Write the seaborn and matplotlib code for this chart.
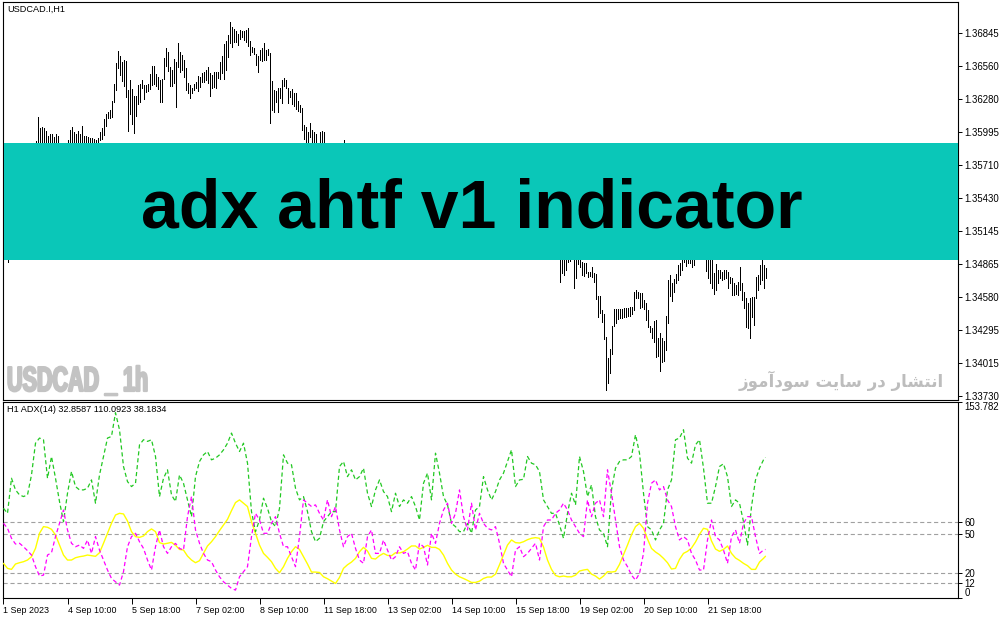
import matplotlib
matplotlib.use("Agg")
import matplotlib.pyplot as plt
import seaborn as sns
import pandas as pd
from matplotlib.patches import Rectangle
from matplotlib import patheffects
from matplotlib.transforms import Affine2D

# ---------------- texts ----------------
symbol_title = "USDCAD.I,H1"
indicator_title = "H1 ADX(14) 32.8587 110.0923 38.1834"
banner_title = "adx ahtf v1 indicator"
watermark_left = "USDCAD _ 1h"
# "انتشار در سایت سودآموز" written with Arabic presentation forms in visual order
watermark_right = ("\uFEAF\uFEEE\uFEE3\uFE81\uFEA9\uFEEE\uFEB3 "
                   "\uFE96\uFBFE\uFE8E\uFEB3 "
                   "\uFEAD\uFEA9 "
                   "\uFEAD\uFE8E\uFEB8\uFE98\uFEE7\uFE8D")

# ---------------- price data (H1 bars, high / low) ----------------
bar_high = [
    1.3515, 1.3512, 1.3500, 1.3506, 1.3514, 1.3522, 1.3520, 1.3533, 1.3546, 1.3553,
    1.3561, 1.3571, 1.3569, 1.3576, 1.3583, 1.3587, 1.35918, 1.36124, 1.36030, 1.36038,
    1.36030, 1.36004, 1.35961, 1.35978, 1.35978, 1.35953, 1.35978, 1.35961, 1.3588, 1.3586,
    1.3584, 1.3587, 1.35927, 1.36013, 1.36038, 1.35995, 1.35978, 1.36004, 1.35978, 1.36047,
    1.35961, 1.35961, 1.35953, 1.35944, 1.35944, 1.35935, 1.35927, 1.35944, 1.35995, 1.36030,
    1.36107, 1.36150, 1.36167, 1.36184, 1.36261, 1.36407, 1.36588, 1.36690, 1.36648, 1.36596,
    1.36613, 1.36605, 1.36356, 1.36442, 1.36364, 1.36304, 1.36304, 1.36399, 1.36407, 1.36442,
    1.36399, 1.36399, 1.36407, 1.36493, 1.36562, 1.36562, 1.36493, 1.36467, 1.36442, 1.36450,
    1.36630, 1.36716, 1.36682, 1.36553, 1.36527, 1.36622, 1.36596, 1.36759, 1.36682, 1.36656,
    1.36613, 1.36545, 1.36416, 1.36399, 1.36373, 1.36407, 1.36424, 1.36476, 1.36467, 1.36502,
    1.36510, 1.36527, 1.36553, 1.36502, 1.36485, 1.36510, 1.36510, 1.36510, 1.36596, 1.36648,
    1.36750, 1.36776, 1.36828, 1.36939, 1.36896, 1.36879, 1.36862, 1.36836, 1.36871, 1.36862,
    1.36862, 1.36871, 1.36888, 1.36776, 1.36725, 1.36716, 1.36665, 1.36648, 1.36699, 1.36716,
    1.36759, 1.36699, 1.36708, 1.36673, 1.36433, 1.36356, 1.36347, 1.36373, 1.36373, 1.36442,
    1.36459, 1.36442, 1.36373, 1.36347, 1.36364, 1.36330, 1.36330, 1.36261, 1.36227, 1.36201,
    1.36056, 1.36038, 1.35995, 1.36073, 1.36013, 1.35995, 1.35978, 1.3588, 1.35995, 1.36004,
    1.35995, 1.3587, 1.3583, 1.3579, 1.3576, 1.3580, 1.3584, 1.3586, 1.3582, 1.3585,
    1.35927, 1.3584, 1.3578, 1.3574, 1.3579, 1.3583, 1.3580, 1.3575, 1.3571, 1.3569,
    1.3573, 1.3577, 1.3574, 1.3568, 1.3563, 1.3566, 1.3570, 1.3568, 1.3562, 1.3558,
    1.3561, 1.3565, 1.3563, 1.3559, 1.3555, 1.3552, 1.3556, 1.3560, 1.3558, 1.3553,
    1.3549, 1.3546, 1.3550, 1.3554, 1.3551, 1.3547, 1.3543, 1.3545, 1.3549, 1.3552,
    1.3548, 1.3544, 1.3540, 1.3537, 1.3541, 1.3545, 1.3543, 1.3539, 1.3535, 1.3538,
    1.3542, 1.3540, 1.3536, 1.3533, 1.3530, 1.3534, 1.3537, 1.3535, 1.3531, 1.3528,
    1.3532, 1.3536, 1.3539, 1.3535, 1.3531, 1.3527, 1.3530, 1.3534, 1.3532, 1.3528,
    1.3525, 1.3529, 1.3533, 1.3530, 1.3526, 1.3523, 1.3527, 1.3531, 1.3528, 1.3524,
    1.3521, 1.3525, 1.3529, 1.3526, 1.3522, 1.3519, 1.3523, 1.3527, 1.3524, 1.3520,
    1.3517, 1.3521, 1.3524, 1.3520, 1.3516, 1.3513, 1.3517, 1.3520, 1.3516, 1.3512,
    1.3515, 1.3518, 1.3514, 1.3510, 1.3513, 1.3516, 1.3512, 1.3508,
    1.3505, 1.3503, 1.3502, 1.3500, 1.3504, 1.3506, 1.3505, 1.3498, 1.3500, 1.3503,
    1.3501, 1.34880, 1.34872, 1.34872, 1.34794, 1.34794, 1.34837, 1.34786, 1.34777, 1.34588,
    1.34588, 1.34468, 1.34434, 1.34237, 1.34056, 1.34134, 1.34331, 1.34477, 1.34477, 1.34477,
    1.34477, 1.34477, 1.34485, 1.34485, 1.34485, 1.34494, 1.34494, 1.34623, 1.34640, 1.34623,
    1.34614, 1.34614, 1.34554, 1.34528, 1.34468, 1.34331, 1.34314, 1.34374, 1.34382, 1.34228,
    1.34271, 1.34228, 1.34202, 1.34417, 1.34726, 1.34769, 1.34700, 1.34734, 1.34777, 1.34854,
    1.34872, 1.34897, 1.3502, 1.3506, 1.3508, 1.3510, 1.3507, 1.3509, 1.3514, 1.3517,
    1.3515, 1.3512, 1.3510, 1.3506, 1.3502, 1.3499, 1.3497, 1.34786, 1.34863, 1.34811,
    1.34811, 1.34794, 1.34811, 1.34811, 1.34794, 1.34751, 1.34743, 1.34700, 1.34683, 1.34708,
    1.34837, 1.34700, 1.34623, 1.34571, 1.34528, 1.34571, 1.34580, 1.34580, 1.34751, 1.34769,
    1.34854, 1.34897, 1.34854, 1.34829,
]

bar_low = [
    1.3506, 1.3495, 1.3488, 1.3492, 1.3499, 1.3506, 1.3509, 1.3514, 1.3527, 1.3539,
    1.3543, 1.3551, 1.3556, 1.3561, 1.3566, 1.3571, 1.3580, 1.3582, 1.3584, 1.3586,
    1.3583, 1.3581, 1.3579, 1.3582, 1.3584, 1.3580, 1.3577, 1.3576, 1.3575, 1.3572,
    1.3574, 1.3576, 1.3579, 1.3584, 1.3586, 1.3583, 1.3585, 1.3584, 1.3583, 1.3585,
    1.3584, 1.3586, 1.3585, 1.3584, 1.3585, 1.3584, 1.3583, 1.3585, 1.35927, 1.35935,
    1.35970, 1.36047, 1.36116, 1.36116, 1.36124, 1.36253, 1.36356, 1.36545, 1.36485, 1.36433,
    1.36390, 1.36296, 1.36004, 1.36150, 1.36064, 1.35987, 1.36133, 1.36236, 1.36253, 1.36373,
    1.36279, 1.36339, 1.36347, 1.36364, 1.36399, 1.36407, 1.36390, 1.36364, 1.36253, 1.36253,
    1.36450, 1.36562, 1.36519, 1.36390, 1.36390, 1.36416, 1.36210, 1.36553, 1.36510, 1.36527,
    1.36467, 1.36356, 1.36330, 1.36287, 1.36330, 1.36356, 1.36373, 1.36347, 1.36382, 1.36424,
    1.36424, 1.36442, 1.36416, 1.36304, 1.36373, 1.36382, 1.36373, 1.36459, 1.36450, 1.36502,
    1.36450, 1.36527, 1.36639, 1.36759, 1.36725, 1.36768, 1.36768, 1.36742, 1.36793, 1.36811,
    1.36785, 1.36768, 1.36733, 1.36656, 1.36682, 1.36665, 1.36570, 1.36510, 1.36613, 1.36605,
    1.36613, 1.36613, 1.36656, 1.36073, 1.36184, 1.36167, 1.36253, 1.36167, 1.36287, 1.36244,
    1.36390, 1.36373, 1.36244, 1.36296, 1.36236, 1.36219, 1.36193, 1.36176, 1.36167, 1.36013,
    1.35935, 1.35910, 1.3582, 1.35953, 1.3584, 1.3585, 1.3583, 1.3578, 1.3580, 1.3582,
    1.3581, 1.3574, 1.3568, 1.3565, 1.3562, 1.3566, 1.3571, 1.3573, 1.3570, 1.3572,
    1.3578, 1.3569, 1.3563, 1.3561, 1.3566, 1.3570, 1.3567, 1.3560, 1.3557, 1.3554,
    1.3559, 1.3563, 1.3560, 1.3552, 1.3548, 1.3551, 1.3556, 1.3553, 1.3547, 1.3544,
    1.3546, 1.3550, 1.3549, 1.3543, 1.3540, 1.3538, 1.3541, 1.3546, 1.3544, 1.3539,
    1.3535, 1.3531, 1.3536, 1.3540, 1.3537, 1.3532, 1.3528, 1.3530, 1.3534, 1.3538,
    1.3535, 1.3530, 1.3526, 1.3523, 1.3527, 1.3531, 1.3529, 1.3524, 1.3521, 1.3523,
    1.3528, 1.3526, 1.3522, 1.3519, 1.3516, 1.3520, 1.3523, 1.3521, 1.3517, 1.3514,
    1.3518, 1.3522, 1.3525, 1.3521, 1.3517, 1.3513, 1.3516, 1.3520, 1.3518, 1.3514,
    1.3511, 1.3515, 1.3519, 1.3516, 1.3512, 1.3509, 1.3513, 1.3517, 1.3514, 1.3510,
    1.3507, 1.3511, 1.3515, 1.3512, 1.3508, 1.3505, 1.3509, 1.3513, 1.3510, 1.3506,
    1.3503, 1.3507, 1.3510, 1.3506, 1.3502, 1.3499, 1.3503, 1.3506, 1.3502, 1.3498,
    1.3501, 1.3504, 1.3500, 1.3496, 1.3499, 1.3502, 1.3498, 1.3494,
    1.34708, 1.34786, 1.34769, 1.34811, 1.34880, 1.34889, 1.3492, 1.34657, 1.34743, 1.34863,
    1.34837, 1.34769, 1.34760, 1.34786, 1.34751, 1.34760, 1.34751, 1.34708, 1.34563, 1.34408,
    1.34443, 1.34365, 1.34219, 1.33782, 1.33842, 1.33928, 1.34091, 1.34331, 1.34357, 1.34391,
    1.34400, 1.34400, 1.34408, 1.34408, 1.34417, 1.34417, 1.34434, 1.34468, 1.34571, 1.34571,
    1.34485, 1.34494, 1.34477, 1.34382, 1.34322, 1.34279, 1.34228, 1.34194, 1.34065, 1.34074,
    1.33945, 1.34022, 1.34031, 1.34125, 1.34357, 1.34588, 1.34545, 1.34623, 1.34700, 1.34726,
    1.34769, 1.34811, 1.34880, 1.34846, 1.34872, 1.34872, 1.34837, 1.34854, 1.3498, 1.3501,
    1.3499, 1.3496, 1.3493, 1.34803, 1.34743, 1.34700, 1.34657, 1.34606, 1.34640, 1.34700,
    1.34743, 1.34726, 1.34734, 1.34743, 1.34657, 1.34700, 1.34597, 1.34597, 1.34606, 1.34597,
    1.34640, 1.34554, 1.34485, 1.34322, 1.34314, 1.34228, 1.34408, 1.34340, 1.34571, 1.34640,
    1.34691, 1.34726, 1.34657, 1.34743,
]

price_ticks = [1.36845, 1.36560, 1.36280, 1.35995, 1.35710, 1.35430,
               1.35145, 1.34865, 1.34580, 1.34295, 1.34015, 1.33730]

time_tick_bars = [0, 32, 64, 96, 128, 160, 192, 224, 256, 288, 320, 352]
time_tick_labels = ["1 Sep 2023", "4 Sep 10:00", "5 Sep 18:00", "7 Sep 02:00",
                    "8 Sep 10:00", "11 Sep 18:00", "13 Sep 02:00", "14 Sep 10:00",
                    "15 Sep 18:00", "19 Sep 02:00", "20 Sep 10:00", "21 Sep 18:00"]

# ---------------- ADX data (sampled every 2 bars + last bar) ----------------
adx_bars = list(range(0, 381, 2)) + [381]
adx_main = [
    27.3, 23.4, 22.6, 26.8, 27.8, 28.6, 29.9, 32.5, 39.0, 50.8,
    56.0, 55.5, 53.9, 49.5, 41.6, 33.8, 29.9, 29.9, 31.7, 32.5,
    33.0, 33.8, 33.3, 32.8, 35.6, 43.0, 50.8, 58.6, 65.1, 66.4,
    65.9, 60.4, 52.1, 48.2, 47.6, 48.7, 52.1, 54.2, 52.1, 43.5,
    42.4, 43.0, 43.7, 41.4, 38.2, 37.7, 33.0, 29.9, 27.8, 29.4,
    35.1, 40.9, 44.2, 48.2, 52.9, 57.3, 61.7, 68.5, 74.8, 76.9,
    74.3, 71.7, 59.9, 50.8, 41.6, 35.1, 32.0, 28.6, 23.4, 20.0,
    24.7, 31.2, 36.4, 40.3, 38.2, 32.5, 26.8, 20.5, 20.5, 20.2,
    16.8, 15.3, 13.4, 11.6, 16.3, 23.4, 26.2, 28.3, 31.2, 36.4,
    39.8, 36.9, 31.2, 30.7, 33.3, 35.1, 33.5, 33.3, 35.6, 35.4,
    36.4, 38.5, 40.9, 40.9, 38.5, 39.8, 41.4, 39.8, 39.8, 38.2,
    33.8, 27.3, 22.1, 18.9, 16.8, 15.5, 14.0, 12.4, 12.4, 13.4,
    15.5, 16.6, 16.6, 18.9, 26.2, 33.8, 41.6, 45.6, 43.5, 43.2,
    44.2, 45.8, 46.9, 47.4, 46.9, 40.1, 29.9, 22.6, 17.9, 16.8,
    17.4, 16.8, 16.8, 18.1, 21.3, 22.1, 22.6, 18.9, 17.4, 15.0,
    17.4, 20.8, 20.5, 21.0, 26.5, 34.1, 41.6, 49.7, 56.0, 58.6,
    54.7, 46.3, 39.0, 36.2, 34.1, 31.2, 27.8, 22.9, 23.4, 30.4,
    35.1, 36.7, 39.3, 44.0, 50.0, 54.7, 53.9, 44.8, 38.5, 36.7,
    38.2, 40.9, 35.1, 31.5, 29.6, 27.3, 25.5, 22.6, 22.6, 28.3,
    31.2, 32.8587,
]
adx_plus = [
    70.3, 66.4, 93.8, 84.7, 80.8, 79.5, 80.8, 96.4, 121.2, 125.2,
    123.9, 93.8, 110.8, 93.8, 75.6, 59.9, 82.1, 99.1, 87.3, 84.7,
    84.7, 86.0, 92.5, 74.3, 96.4, 110.8, 125.2, 126.5, 145.0, 131.7,
    103.0, 91.2, 87.3, 89.9, 119.9, 123.9, 122.6, 123.9, 110.8, 79.5,
    93.8, 100.4, 80.8, 75.6, 96.4, 89.9, 76.9, 63.8, 95.1, 106.9,
    112.1, 114.7, 108.2, 109.5, 112.1, 116.0, 121.2, 129.1, 121.2, 114.7,
    121.2, 105.6, 67.7, 52.1, 61.2, 78.2, 70.3, 59.9, 56.0, 70.3,
    112.1, 105.6, 104.3, 86.0, 76.9, 79.5, 67.7, 52.1, 44.3, 46.9,
    59.9, 63.8, 67.7, 67.7, 103.0, 106.9, 95.1, 100.4, 92.5, 95.1,
    101.7, 82.1, 71.7, 84.7, 92.5, 83.4, 79.5, 67.7, 82.1, 71.7,
    76.9, 74.3, 79.5, 71.7, 61.2, 89.9, 97.8, 76.9, 113.4, 97.8,
    79.5, 73.0, 58.6, 56.0, 52.1, 52.1, 58.6, 50.8, 69.0, 71.7,
    95.1, 84.7, 76.9, 83.4, 92.5, 97.8, 106.9, 116.0, 87.3, 92.5,
    93.0, 110.8, 105.6, 104.3, 99.1, 76.9, 71.7, 66.4, 66.4, 57.3,
    46.9, 66.4, 82.1, 73.0, 110.8, 99.1, 79.5, 88.6, 63.8, 53.4,
    50.8, 40.3, 84.7, 101.7, 106.9, 108.2, 108.2, 110.8, 127.8, 113.4,
    82.1, 56.0, 53.4, 45.6, 53.4, 58.6, 84.7, 92.5, 123.9, 125.2,
    131.7, 109.5, 105.6, 119.9, 123.9, 101.7, 74.3, 74.3, 87.3, 103.0,
    105.1, 95.1, 71.7, 76.9, 74.3, 59.9, 41.6, 71.7, 92.5, 101.7,
    108.2, 110.0923,
]
adx_minus = [
    58.6, 54.7, 46.9, 42.4, 43.0, 40.3, 37.2, 33.8, 24.7, 17.4,
    18.1, 33.8, 35.6, 48.2, 58.6, 69.0, 53.4, 43.0, 40.3, 41.6,
    39.0, 45.5, 35.1, 48.2, 37.7, 29.9, 22.1, 15.5, 12.9, 10.3,
    20.8, 40.3, 48.2, 50.8, 44.2, 39.0, 29.9, 22.1, 40.3, 53.4,
    40.3, 35.1, 40.3, 42.9, 39.0, 37.7, 63.8, 79.5, 53.4, 43.0,
    35.1, 29.9, 28.6, 22.1, 16.8, 12.9, 10.3, 7.7, 6.4, 16.8,
    20.8, 24.7, 48.2, 66.4, 61.2, 50.8, 50.8, 58.6, 63.8, 50.8,
    40.3, 40.3, 32.5, 24.7, 48.2, 76.9, 74.3, 71.7, 73.0, 66.4,
    61.2, 76.9, 63.8, 71.7, 53.4, 40.3, 48.2, 50.8, 39.0, 29.9,
    27.3, 48.2, 53.4, 35.1, 35.1, 45.5, 37.7, 29.9, 32.5, 40.3,
    35.1, 36.4, 27.3, 22.1, 43.0, 40.3, 26.0, 50.8, 43.0, 58.6,
    69.0, 74.3, 58.6, 66.4, 84.7, 63.8, 53.4, 74.3, 53.4, 66.4,
    58.6, 54.7, 53.4, 56.0, 43.0, 27.3, 22.1, 16.8, 37.7, 40.3,
    32.5, 35.1, 39.0, 43.0, 29.9, 56.0, 61.2, 61.2, 66.4, 69.0,
    74.3, 69.0, 61.2, 56.0, 50.8, 48.2, 76.9, 63.8, 74.3, 76.9,
    63.8, 100.4, 82.1, 61.2, 40.3, 29.9, 24.7, 18.1, 14.2, 19.4,
    35.1, 74.3, 89.9, 92.5, 84.7, 87.3, 76.9, 71.7, 56.0, 45.6,
    48.2, 45.6, 35.1, 29.9, 22.1, 22.1, 45.6, 61.2, 48.2, 45.6,
    37.7, 27.3, 48.2, 53.4, 43.0, 58.6, 63.8, 63.8, 48.2, 35.1,
    37.7, 38.1834,
]
adx_levels = [60, 50, 20, 12]
adx_scale_max = 153.782

assert len(bar_high) == len(bar_low) == 382, (len(bar_high), len(bar_low))
assert len(adx_bars) == len(adx_main) == len(adx_plus) == len(adx_minus), \
    (len(adx_bars), len(adx_main), len(adx_plus), len(adx_minus))


class Squeeze(patheffects.AbstractPathEffect):
    """Draw text glyphs scaled in glyph space (condensed, heavy look)."""

    def __init__(self, sx=1.0, sy=1.0, stroke=0.0):
        super().__init__()
        self._sx, self._sy, self._stroke = sx, sy, stroke

    def draw_path(self, renderer, gc, tpath, affine, rgbFace=None):
        gc0 = renderer.new_gc()
        gc0.copy_properties(gc)
        if self._stroke > 0 and rgbFace is not None:
            gc0.set_linewidth(self._stroke)
            gc0.set_foreground(rgbFace)
        renderer.draw_path(gc0, tpath, Affine2D().scale(self._sx, self._sy) + affine, rgbFace)
        gc0.restore()


# ---------------- style ----------------
sns.set_theme(style="white")
plt.rcParams["font.family"] = ["Liberation Sans", "DejaVu Sans"]
plt.rcParams["lines.scale_dashes"] = False
plt.rcParams["axes.edgecolor"] = "black"
plt.rcParams["axes.linewidth"] = 0.8

W, H = 1004, 620
fig = plt.figure(figsize=(W / 100, H / 100), dpi=100)
fig.patch.set_facecolor("white")


def fx(px):
    return px / W


def fy(py):
    return 1 - py / H


left_px, right_px = 3, 958
ax_p = fig.add_axes([fx(left_px), fy(399.5), (right_px - left_px) / W, (399.5 - 2) / H])
ax_i = fig.add_axes([fx(left_px), fy(598.3), (right_px - left_px) / W, (598.3 - 401.5) / H])

bar_idx = list(range(len(bar_high)))
x_lim = (-0.25, 477.25)

# ---------------- price panel ----------------
ax_p.vlines(bar_idx, bar_low, bar_high, colors="black", linewidth=0.7, antialiased=False)
ax_p.set_xlim(*x_lim)
ax_p.set_ylim(1.33700, 1.37111)
ax_p.yaxis.tick_right()
ax_p.set_yticks(price_ticks)
ax_p.set_yticklabels([f"{v:.5f}" for v in price_ticks])
ax_p.tick_params(axis="y", which="both", right=True, left=False, direction="out",
                 length=3, width=0.7, pad=1.5, labelsize=6.9, colors="black")
ax_p.set_xticks([])
ax_p.set_xlabel("")
ax_p.set_ylabel("")
for s in ax_p.spines.values():
    s.set_color("black")
    s.set_linewidth(0.8)

# ---------------- indicator panel ----------------
df = pd.DataFrame({"bar": adx_bars, "main": adx_main, "plus": adx_plus, "minus": adx_minus})
for lev in adx_levels:
    ax_i.axhline(lev, color="#A0A0A0", linewidth=0.8, linestyle=(0, (3, 2)), zorder=1)
sns.lineplot(data=df, x="bar", y="main", ax=ax_i, color="#FFFF00", linewidth=1.0,
             errorbar=None, zorder=3)
sns.lineplot(data=df, x="bar", y="plus", ax=ax_i, color="#22C822", linewidth=0.9,
             linestyle=(0, (3, 2)), errorbar=None, zorder=3)
sns.lineplot(data=df, x="bar", y="minus", ax=ax_i, color="#FF00FF", linewidth=0.9,
             linestyle=(0, (3, 2)), errorbar=None, zorder=4)
ax_i.set_xlim(*x_lim)
ax_i.set_ylim(0, adx_scale_max)
ax_i.set_xlabel("")
ax_i.set_ylabel("")
ax_i.yaxis.tick_right()
ind_ticks = [0, 12, 20, 50, 60, adx_scale_max]
ax_i.set_yticks(ind_ticks)
ax_i.set_yticklabels(["0", "12", "20", "50", "60", f"{adx_scale_max:.3f}"])
ax_i.tick_params(axis="y", which="both", right=True, left=False, direction="out",
                 length=3, width=0.7, pad=1.5, labelsize=6.9, colors="black")
ylabels = ax_i.get_yticklabels()
ylabels[0].set_va("bottom")
ylabels[-1].set_va("top")
ax_i.set_xticks(time_tick_bars)
ax_i.set_xticklabels(time_tick_labels, ha="left")
ax_i.tick_params(axis="x", which="both", bottom=True, direction="out", length=4,
                 width=0.7, pad=1.5, labelsize=6.4, colors="black")
for s in ax_i.spines.values():
    s.set_color("black")
    s.set_linewidth(0.8)

# ---------------- headers / watermarks ----------------
fig.text(fx(7), fy(9.5), symbol_title, fontsize=6.6, va="center", ha="left", color="black")
fig.text(fx(7), fy(409.5), indicator_title, fontsize=6.6, va="center", ha="left", color="black")
wm = fig.text(fx(7), fy(391), watermark_left, fontsize=25, fontweight="bold",
              family=["Liberation Sans", "DejaVu Sans"],
              color="#C3C3C3", va="baseline", ha="left")
wm.set_path_effects([Squeeze(0.62, 1.0, stroke=1.6)])
fig.text(fx(944), fy(387), watermark_right, fontsize=12, fontweight="bold",
         family=["DejaVu Sans"], color="#BDBDBD", va="baseline", ha="right")

# ---------------- banner ----------------
fig.add_artist(Rectangle((fx(4), fy(260)), (right_px - 4) / W, (260 - 143) / H,
                         transform=fig.transFigure, facecolor="#0AC7B8",
                         edgecolor="none", zorder=5))
fig.text(fx(471.5), fy(228), banner_title, fontsize=49, fontweight="bold",
         family=["Liberation Sans", "DejaVu Sans"], color="black",
         ha="center", va="baseline", zorder=6)

fig.savefig("out.png", dpi=100, facecolor="white")
